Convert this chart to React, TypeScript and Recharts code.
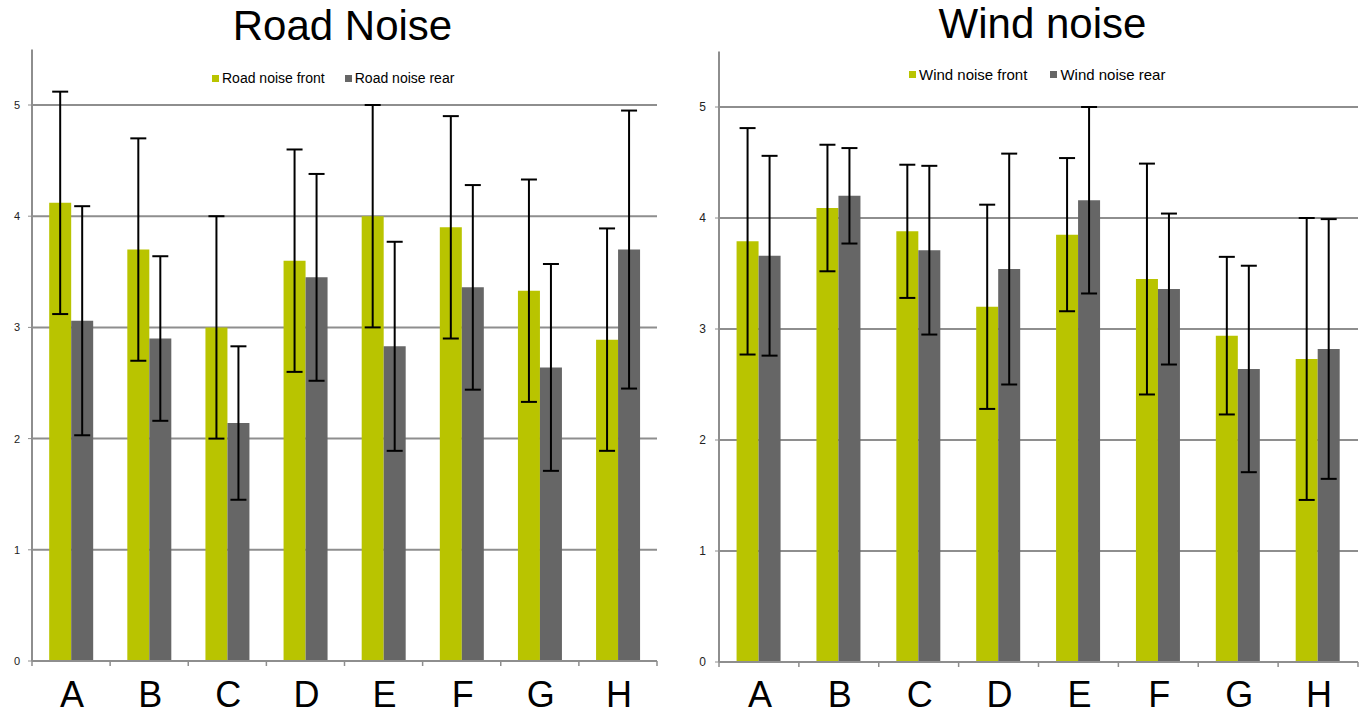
import React from 'react';
import { BarChart, Bar, XAxis, YAxis, CartesianGrid, ErrorBar, Legend } from 'recharts';

const categories = ['A', 'B', 'C', 'D', 'E', 'F', 'G', 'H'];
const yTicks = [0, 1, 2, 3, 4, 5];

const roadFront = [4.12, 3.7, 3.0, 3.6, 4.0, 3.9, 3.33, 2.89];
const roadFrontErr = [1.0, 1.0, 1.0, 1.0, 1.0, 1.0, 1.0, 1.0];
const roadRear = [3.06, 2.9, 2.14, 3.45, 2.83, 3.36, 2.64, 3.7];
const roadRearErr = [1.03, 0.74, 0.69, 0.93, 0.94, 0.92, 0.93, 1.25];

const windFront = [3.79, 4.09, 3.88, 3.2, 3.85, 3.45, 2.94, 2.73];
const windFrontErr = [1.02, 0.57, 0.6, 0.92, 0.69, 1.04, 0.71, 1.27];
const windRear = [3.66, 4.2, 3.71, 3.54, 4.16, 3.36, 2.64, 2.82];
const windRearErr = [0.9, 0.43, 0.76, 1.04, 0.84, 0.68, 0.93, 1.17];

const FRONT = '#B9C400';
const REAR = '#666666';
const GRID = '#8E8E8E';
const FONT = '"Liberation Sans", Arial, sans-serif';

const build = (front: number[], fErr: number[], rear: number[], rErr: number[]) =>
  categories.map((c, i) => ({ cat: c, front: front[i], frontErr: fErr[i], rear: rear[i], rearErr: rErr[i] }));

const roadData = build(roadFront, roadFrontErr, roadRear, roadRearErr);
const windData = build(windFront, windFrontErr, windRear, windRearErr);

type Cfg = {
  left: number;
  width: number;
  margin: { top: number; right: number; left: number; bottom: number };
  yWidth: number;
  yTickMargin: number;
  yFont: number;
  xTickMargin: number;
  title: string;
  titleTop: number;
  titleWidth: number;
  legendTop: number;
  legendLeft: number;
  legendFont: number;
  legendGap: number;
  names: [string, string];
  data: any[];
};

const makeXTick = (tm: number) => (props: any) => {
  const { x, y, payload, index, visibleTicksCount } = props;
  const off = payload && typeof payload.offset === 'number' ? payload.offset : 0;
  const axisY = y - tm;
  return (
    <g>
      {off > 0 && <line x1={x - off} y1={axisY} x2={x - off} y2={axisY + 5} stroke={GRID} strokeWidth={1.5} />}
      {off > 0 && index === visibleTicksCount - 1 && (
        <line x1={x + off} y1={axisY} x2={x + off} y2={axisY + 5} stroke={GRID} strokeWidth={1.5} />
      )}
      <text x={x + 1} y={y} dy="0.71em" textAnchor="middle" fontSize={36} fill="#000" fontFamily={FONT}>
        {payload.value}
      </text>
    </g>
  );
};

function NoiseChart(cfg: Cfg) {
  const legendContent = () => (
    <div style={{ display: 'flex', alignItems: 'center', fontFamily: FONT, fontSize: cfg.legendFont, lineHeight: `${cfg.legendFont + 2}px`, color: '#000', whiteSpace: 'nowrap' }}>
      <span style={{ display: 'inline-block', width: 7, height: 7, background: FRONT, marginRight: 3 }} />
      <span style={{ marginRight: cfg.legendGap }}>{cfg.names[0]}</span>
      <span style={{ display: 'inline-block', width: 7, height: 7, background: REAR, marginRight: 3 }} />
      <span>{cfg.names[1]}</span>
    </div>
  );
  return (
    <div style={{ position: 'absolute', left: cfg.left, top: 0, width: cfg.width, height: 715 }}>
      <div style={{ position: 'absolute', left: 0, top: cfg.titleTop, width: cfg.titleWidth, textAlign: 'center', fontFamily: FONT, fontSize: 42, lineHeight: '42px', color: '#000', whiteSpace: 'nowrap' }}>
        {cfg.title}
      </div>
      <BarChart width={cfg.width} height={715} data={cfg.data} margin={cfg.margin} barCategoryGap="22%" barGap={0}>
        <CartesianGrid vertical={false} horizontalValues={yTicks} stroke={GRID} strokeWidth={2} />
        <XAxis
          dataKey="cat"
          height={50}
          axisLine={{ stroke: GRID, strokeWidth: 2 }}
          tickLine={false}
          tickSize={0}
          tickMargin={cfg.xTickMargin}
          interval={0}
          tick={makeXTick(cfg.xTickMargin)}
        />
        <YAxis
          type="number"
          width={cfg.yWidth}
          domain={[0, 5.5]}
          allowDataOverflow={true}
          ticks={yTicks}
          interval={0}
          axisLine={{ stroke: GRID, strokeWidth: 2 }}
          tickLine={{ stroke: GRID }}
          tickSize={4}
          tickMargin={cfg.yTickMargin}
          tick={{ fontSize: cfg.yFont, fill: '#222', fontFamily: FONT }}
        />
        <Legend
          verticalAlign="middle"
          align="center"
          layout="horizontal"
          wrapperStyle={{ top: cfg.legendTop, left: cfg.legendLeft, width: 'auto', height: 'auto' }}
          content={legendContent}
        />
        <Bar dataKey="front" name={cfg.names[0]} fill={FRONT} isAnimationActive={false}>
          <ErrorBar dataKey="frontErr" width={8} strokeWidth={2} stroke="#000" />
        </Bar>
        <Bar dataKey="rear" name={cfg.names[1]} fill={REAR} isAnimationActive={false}>
          <ErrorBar dataKey="rearErr" width={8} strokeWidth={2} stroke="#000" />
        </Bar>
      </BarChart>
    </div>
  );
}

export default function App() {
  return (
    <div style={{ position: 'absolute', left: 0, top: 0, width: 1363, height: 715, background: '#fff', overflow: 'hidden' }}>
      <NoiseChart
        left={0}
        width={680}
        margin={{ top: 49.4, right: 23, left: 0, bottom: 4 }}
        yWidth={32}
        yTickMargin={8}
        yFont={11}
        xTickMargin={20.4}
        title="Road Noise"
        titleTop={5}
        titleWidth={685}
        legendTop={70}
        legendLeft={212}
        legendFont={14}
        legendGap={20}
        names={['Road noise front', 'Road noise rear']}
        data={roadData}
      />
      <NoiseChart
        left={680}
        width={683}
        margin={{ top: 51.5, right: 5, left: 0, bottom: 3 }}
        yWidth={39}
        yTickMargin={9}
        yFont={12}
        xTickMargin={19.4}
        title="Wind noise"
        titleTop={3}
        titleWidth={725}
        legendTop={66}
        legendLeft={229}
        legendFont={15}
        legendGap={23}
        names={['Wind noise front', 'Wind noise rear']}
        data={windData}
      />
    </div>
  );
}
